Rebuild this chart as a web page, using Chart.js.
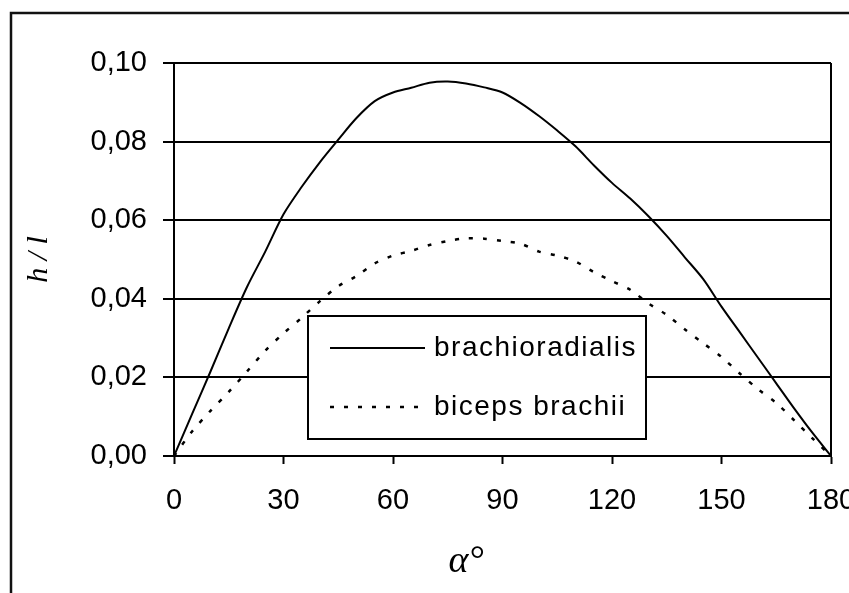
<!DOCTYPE html>
<html>
<head>
<meta charset="utf-8">
<title>h/l</title>
<script src="https://cdn.jsdelivr.net/npm/chart.js@4.4.0/dist/chart.umd.min.js"></script>
<style>
  html, body { margin: 0; padding: 0; background: #fff; }
</style>
</head>
<body>
<canvas id="armChart" width="849" height="593"></canvas>
<script>
// elbow angle, degrees
const angles = [0, 5, 10, 15, 20, 25, 30, 35, 40, 45, 50, 55, 60, 65, 70, 75, 80, 85, 90,
                95, 100, 105, 110, 115, 120, 125, 130, 135, 140, 145, 150, 155, 160, 165, 170, 175, 180];

// moment arm relative to muscle length (h / l)
const brachioradialis = [0, 0.0108, 0.0215, 0.0325, 0.0430, 0.0520, 0.0615, 0.0685, 0.0748, 0.0805,
                         0.0860, 0.0903, 0.0925, 0.0937, 0.0950, 0.0953, 0.0948, 0.0938, 0.0925,
                         0.0898, 0.0865, 0.0828, 0.0788, 0.0740, 0.0695, 0.0655, 0.0610, 0.0560,
                         0.0505, 0.0450, 0.0380, 0.0315, 0.0250, 0.0185, 0.0120, 0.0058, 0];
const bicepsBrachii = [0, 0.0063, 0.0115, 0.0163, 0.0215, 0.0268, 0.0312, 0.0352, 0.0394, 0.0432,
                       0.0458, 0.0490, 0.0510, 0.0522, 0.0537, 0.0547, 0.0554, 0.0553, 0.0547,
                       0.0540, 0.0520, 0.0510, 0.0495, 0.0468, 0.0445, 0.0423, 0.0388, 0.0359,
                       0.0322, 0.0287, 0.0252, 0.0210, 0.0170, 0.0135, 0.0090, 0.0044, 0];

const angleTicks = [0, 30, 60, 90, 120, 150, 180];
const ratioTicks = [0, 0.02, 0.04, 0.06, 0.08, 0.10];

const seriesNames = ['brachioradialis', 'biceps brachii'];

const SANS = "'Liberation Sans', Arial, sans-serif";
const SERIF = "'Liberation Serif', 'Times New Roman', serif";

const toPoints = values => values.map((v, i) => ({ x: angles[i], y: v }));

// page frame, right edge of the plot and the boxed legend
const decorPlugin = {
    id: 'decor',
    beforeDraw(chart) {
        const ctx = chart.ctx;
        ctx.save();
        ctx.fillStyle = '#fff';
        ctx.fillRect(0, 0, chart.width, chart.height);
        ctx.strokeStyle = '#111';
        ctx.lineWidth = 2.5;
        ctx.strokeRect(11, 13, chart.width + 40, chart.height + 40);
        ctx.restore();
    },
    beforeDatasetsDraw(chart) {
        const { ctx, chartArea } = chart;
        ctx.save();
        ctx.strokeStyle = '#000';
        ctx.lineWidth = 2;
        ctx.beginPath();
        ctx.moveTo(chartArea.right, chartArea.top);
        ctx.lineTo(chartArea.right, chartArea.bottom);
        ctx.stroke();
        ctx.restore();
    },
    afterDatasetsDraw(chart) {
        const { ctx, chartArea } = chart;
        const bx = chartArea.left + 134;
        const by = chartArea.top + 253;
        const bw = 338;
        const bh = 123;

        ctx.save();
        ctx.fillStyle = '#fff';
        ctx.fillRect(bx, by, bw, bh);
        ctx.strokeStyle = '#000';
        ctx.lineWidth = 2;
        ctx.strokeRect(bx, by, bw, bh);

        ctx.font = '28px ' + SANS;
        ctx.letterSpacing = '1.5px';
        ctx.textBaseline = 'middle';
        ctx.textAlign = 'left';
        chart.data.datasets.forEach((ds, i) => {
            const y = by + 32 + i * 59;
            ctx.beginPath();
            ctx.lineWidth = ds.borderWidth;
            ctx.strokeStyle = ds.borderColor;
            ctx.setLineDash(ds.borderDash || []);
            ctx.moveTo(bx + 22, y);
            ctx.lineTo(bx + 117, y);
            ctx.stroke();
            ctx.setLineDash([]);
            ctx.fillStyle = '#000';
            ctx.fillText(ds.label, bx + 126, y);
        });
        ctx.restore();
    },
    afterDraw(chart) {
        // x axis title sits left of the plot centre
        const { ctx, chartArea } = chart;
        ctx.save();
        ctx.font = 'italic 38px ' + SERIF;
        ctx.fillStyle = '#000';
        ctx.textAlign = 'center';
        ctx.textBaseline = 'middle';
        ctx.fillText('\u03b1\u00b0', chartArea.left + 292, chartArea.bottom + 106);
        ctx.restore();
    }
};

const ctx = document.getElementById('armChart').getContext('2d');
new Chart(ctx, {
    type: 'line',
    data: {
        datasets: [
            {
                label: seriesNames[0],
                data: toPoints(brachioradialis),
                borderColor: '#000',
                borderWidth: 2,
                tension: 0.3,
                pointRadius: 0,
                fill: false
            },
            {
                label: seriesNames[1],
                data: toPoints(bicepsBrachii),
                borderColor: '#000',
                borderWidth: 2.5,
                borderDash: [4, 10],
                tension: 0.3,
                pointRadius: 0,
                fill: false
            }
        ]
    },
    options: {
        responsive: false,
        animation: false,
        devicePixelRatio: 1,
        layout: { padding: { top: 63, right: 18, bottom: 0, left: 0 } },
        plugins: {
            legend: { display: false },
            tooltip: { enabled: false }
        },
        scales: {
            x: {
                type: 'linear',
                min: 0,
                max: 180,
                afterBuildTicks: scale => { scale.ticks = angleTicks.map(v => ({ value: v })); },
                afterFit: scale => {
                    scale.height = 137;
                    scale.paddingLeft = 0;
                    scale.paddingRight = 0;
                },
                grid: {
                    drawOnChartArea: false,
                    drawTicks: true,
                    tickLength: 8,
                    tickWidth: 2,
                    tickColor: '#000'
                },
                border: { color: '#000', width: 2 },
                ticks: {
                    color: '#000',
                    padding: 20,
                    maxRotation: 0,
                    font: { family: SANS, size: 29 }
                }
            },
            y: {
                min: 0,
                max: 0.1,
                afterBuildTicks: scale => { scale.ticks = ratioTicks.map(v => ({ value: v })); },
                afterFit: scale => {
                    scale.width = 174;
                    scale.paddingTop = 0;
                    scale.paddingBottom = 0;
                },
                grid: {
                    color: '#000',
                    lineWidth: 2,
                    drawTicks: true,
                    tickLength: 11,
                    tickColor: '#000'
                },
                border: { color: '#000', width: 2 },
                ticks: {
                    color: '#000',
                    padding: 16,
                    font: { family: SANS, size: 29 },
                    callback: v => v.toFixed(2).replace('.', ',')
                },
                title: {
                    display: true,
                    text: 'h / l',
                    color: '#000',
                    padding: { top: 21, bottom: 0 },
                    font: { family: SERIF, size: 30, style: 'italic' }
                }
            }
        }
    },
    plugins: [decorPlugin]
});
</script>
</body>
</html>
